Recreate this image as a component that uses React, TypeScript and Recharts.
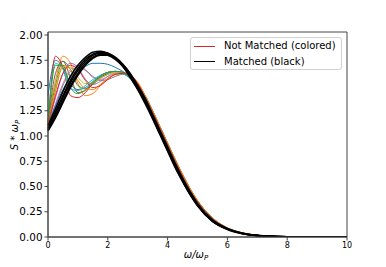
import React from "react";
import { LineChart, Line, XAxis, YAxis, ReferenceArea, Legend } from "recharts";

// frequency grid (omega / omega_p)
const omega = [
  0, 0.25, 0.5, 0.75, 1, 1.25, 1.5, 1.75, 2, 2.25, 2.5, 2.75, 3,
  3.25, 3.5, 3.75, 4, 4.25, 4.5, 4.75, 5, 5.5, 6, 6.5, 7, 7.5, 8, 9, 10,
];

// not matched spectra: low-frequency part (omega 0 .. 3)
const nm1 = [1.40, 1.75, 1.68, 1.52, 1.46, 1.48, 1.54, 1.60, 1.63, 1.64, 1.62, 1.57, 1.50];
const nm2 = [1.15, 1.55, 1.79, 1.72, 1.52, 1.40, 1.42, 1.50, 1.57, 1.61, 1.62, 1.60, 1.53];
const nm3 = [1.12, 1.50, 1.74, 1.66, 1.50, 1.47, 1.51, 1.57, 1.61, 1.63, 1.63, 1.59, 1.51];
const nm4 = [1.12, 1.79, 1.68, 1.40, 1.38, 1.43, 1.52, 1.59, 1.63, 1.64, 1.63, 1.58, 1.50];
const nm5 = [1.10, 1.38, 1.62, 1.72, 1.68, 1.56, 1.51, 1.54, 1.59, 1.62, 1.63, 1.60, 1.52];
const nm6 = [1.11, 1.62, 1.74, 1.58, 1.43, 1.45, 1.52, 1.58, 1.62, 1.64, 1.63, 1.58, 1.50];
const nm7 = [1.10, 1.32, 1.52, 1.66, 1.70, 1.66, 1.58, 1.56, 1.59, 1.62, 1.62, 1.59, 1.51];
const nm8 = [1.10, 1.30, 1.50, 1.64, 1.68, 1.65, 1.59, 1.55, 1.56, 1.59, 1.61, 1.59, 1.51];
const nm9 = [1.11, 1.45, 1.68, 1.68, 1.58, 1.52, 1.53, 1.57, 1.61, 1.63, 1.62, 1.59, 1.51];
const nm10 = [1.14, 1.72, 1.66, 1.47, 1.45, 1.50, 1.56, 1.60, 1.63, 1.64, 1.62, 1.57, 1.50];
const nm11 = [1.12, 1.30, 1.46, 1.58, 1.65, 1.69, 1.72, 1.72, 1.71, 1.68, 1.64, 1.58, 1.50];
const nm12 = [1.13, 1.45, 1.70, 1.66, 1.55, 1.47, 1.46, 1.51, 1.57, 1.61, 1.62, 1.60, 1.53];
const nm13 = [1.13, 1.70, 1.70, 1.48, 1.42, 1.46, 1.53, 1.59, 1.63, 1.64, 1.63, 1.58, 1.50];
const nm14 = [1.11, 1.40, 1.62, 1.70, 1.66, 1.55, 1.48, 1.50, 1.56, 1.61, 1.62, 1.60, 1.52];

// not matched spectra: high-frequency part (omega 3.25 .. 10)
const nmTail = [1.38, 1.23, 1.07, 0.91, 0.75, 0.60, 0.46, 0.35, 0.18, 0.085, 0.04, 0.016, 0.006, 0.002, 0, 0];
const nmTailWide = [1.40, 1.25, 1.09, 0.93, 0.77, 0.62, 0.48, 0.36, 0.19, 0.09, 0.042, 0.017, 0.006, 0.002, 0, 0];

// matched spectra
const m1 = [1.10, 1.27, 1.44, 1.59, 1.70, 1.78, 1.83, 1.84, 1.82, 1.77, 1.69, 1.58, 1.46, 1.32, 1.17, 1.01, 0.85, 0.69, 0.55, 0.42, 0.31, 0.155, 0.075, 0.033, 0.014, 0.005, 0.002, 0, 0];
const m2 = [1.07, 1.22, 1.38, 1.53, 1.65, 1.74, 1.80, 1.82, 1.81, 1.77, 1.70, 1.60, 1.48, 1.35, 1.19, 1.03, 0.87, 0.71, 0.56, 0.43, 0.32, 0.16, 0.08, 0.035, 0.015, 0.006, 0.002, 0, 0];
const m3 = [1.05, 1.18, 1.33, 1.48, 1.60, 1.70, 1.77, 1.80, 1.80, 1.77, 1.71, 1.62, 1.50, 1.37, 1.21, 1.05, 0.89, 0.73, 0.58, 0.45, 0.33, 0.17, 0.085, 0.037, 0.016, 0.006, 0.002, 0, 0];
const m4 = [1.08, 1.24, 1.40, 1.55, 1.67, 1.76, 1.81, 1.83, 1.82, 1.78, 1.71, 1.61, 1.49, 1.36, 1.20, 1.04, 0.88, 0.72, 0.57, 0.44, 0.32, 0.16, 0.08, 0.035, 0.015, 0.006, 0.002, 0, 0];
const m5 = [1.06, 1.20, 1.35, 1.50, 1.62, 1.72, 1.78, 1.81, 1.80, 1.76, 1.69, 1.59, 1.47, 1.34, 1.18, 1.02, 0.86, 0.70, 0.555, 0.425, 0.315, 0.158, 0.078, 0.034, 0.015, 0.006, 0.002, 0, 0];

const yTicks = [0, 0.25, 0.5, 0.75, 1, 1.25, 1.5, 1.75, 2];
const xTicks = [0, 2, 4, 6, 8, 10];

const tab10 = ["#1f77b4", "#ff7f0e", "#2ca02c", "#d62728", "#9467bd", "#8c564b", "#e377c2", "#7f7f7f", "#bcbd22", "#17becf"];

const notMatched = [
  nm1.concat(nmTail), nm2.concat(nmTailWide), nm3.concat(nmTail), nm4.concat(nmTail),
  nm5.concat(nmTail), nm6.concat(nmTail), nm7.concat(nmTail), nm8.concat(nmTail),
  nm9.concat(nmTail), nm10.concat(nmTail), nm11.concat(nmTailWide), nm12.concat(nmTailWide),
  nm13.concat(nmTail), nm14.concat(nmTail),
];
const matched = [m1, m2, m3, m4, m5];

const data = omega.map((w, i) => {
  const row: Record<string, number> = { w };
  notMatched.forEach((s, k) => (row["nm" + k] = s[i]));
  matched.forEach((s, k) => (row["m" + k] = s[i]));
  return row;
});

const FONT = "DejaVu Sans, sans-serif";

function LegendBox() {
  return (
    <div
      style={{
        position: "absolute",
        left: 190,
        top: 37,
        width: 152,
        height: 33,
        border: "1px solid #d0d0d0",
        borderRadius: 3,
        background: "rgba(255,255,255,0.8)",
        fontFamily: FONT,
        fontSize: 10,
        color: "#000",
        boxSizing: "border-box",
      }}
    >
      {[
        { label: "Not Matched (colored)", color: "#d62728" },
        { label: "Matched (black)", color: "#000" },
      ].map((it, i) => (
        <div key={i} style={{ position: "absolute", left: 3, top: 2 + i * 15.5, height: 12, display: "flex", alignItems: "center" }}>
          <span style={{ display: "inline-block", width: 21, height: 1, background: it.color, marginRight: 9 }} />
          <span style={{ whiteSpace: "nowrap", lineHeight: "12px" }}>{it.label}</span>
        </div>
      ))}
    </div>
  );
}

export default function App() {
  return (
    <div style={{ position: "relative", width: 386, height: 267, background: "#fff" }}>
      <style>{`body{margin:0}`}</style>
      <LineChart width={386} height={267} data={data} margin={{ top: 32, right: 39, left: 8, bottom: 10 }}>
        <XAxis
          dataKey="w"
          type="number"
          domain={[0, 10]}
          ticks={xTicks}
          tick={{ fontSize: 8, fill: "#000", fontFamily: FONT }}
          tickSize={3.5}
          stroke="#444"
          height={20}
          label={{
            content: () => (
              <text x={196} y={258} textAnchor="middle" fontFamily={FONT} fontSize={10} fill="#000" fontStyle="italic">
                ω/ω<tspan fontSize={7} dy={2}>P</tspan>
              </text>
            ),
          }}
        />
        <YAxis
          type="number"
          domain={[0, 2.03]}
          ticks={yTicks}
          allowDataOverflow
          tick={{ fontSize: 10.4, fill: "#000", fontFamily: FONT }}
          tickFormatter={(v: number) => v.toFixed(2)}
          tickSize={3.5}
          stroke="#444"
          width={40}
          label={{
            content: () => (
              <text x={18} y={135} textAnchor="middle" fontFamily={FONT} fontSize={10} fill="#000" transform="rotate(-90 18 135)">
                <tspan fontStyle="italic">S</tspan>
                <tspan> * </tspan>
                <tspan fontStyle="italic">ω</tspan>
                <tspan fontStyle="italic" fontSize={7} dy={2}>P</tspan>
              </text>
            ),
          }}
        />
        <ReferenceArea x1={0} x2={10} y1={0} y2={2.03} fill="none" stroke="#444" strokeWidth={1} ifOverflow="extendDomain" />
        {notMatched.map((_, k) => (
          <Line
            key={"nm" + k}
            dataKey={"nm" + k}
            type="monotone"
            stroke={tab10[k % 10]}
            strokeWidth={1}
            dot={false}
            isAnimationActive={false}
          />
        ))}
        {matched.map((_, k) => (
          <Line
            key={"m" + k}
            dataKey={"m" + k}
            type="monotone"
            stroke="#000"
            strokeWidth={1.6}
            dot={false}
            isAnimationActive={false}
          />
        ))}
        <Legend content={() => null} />
      </LineChart>
      <LegendBox />
    </div>
  );
}
